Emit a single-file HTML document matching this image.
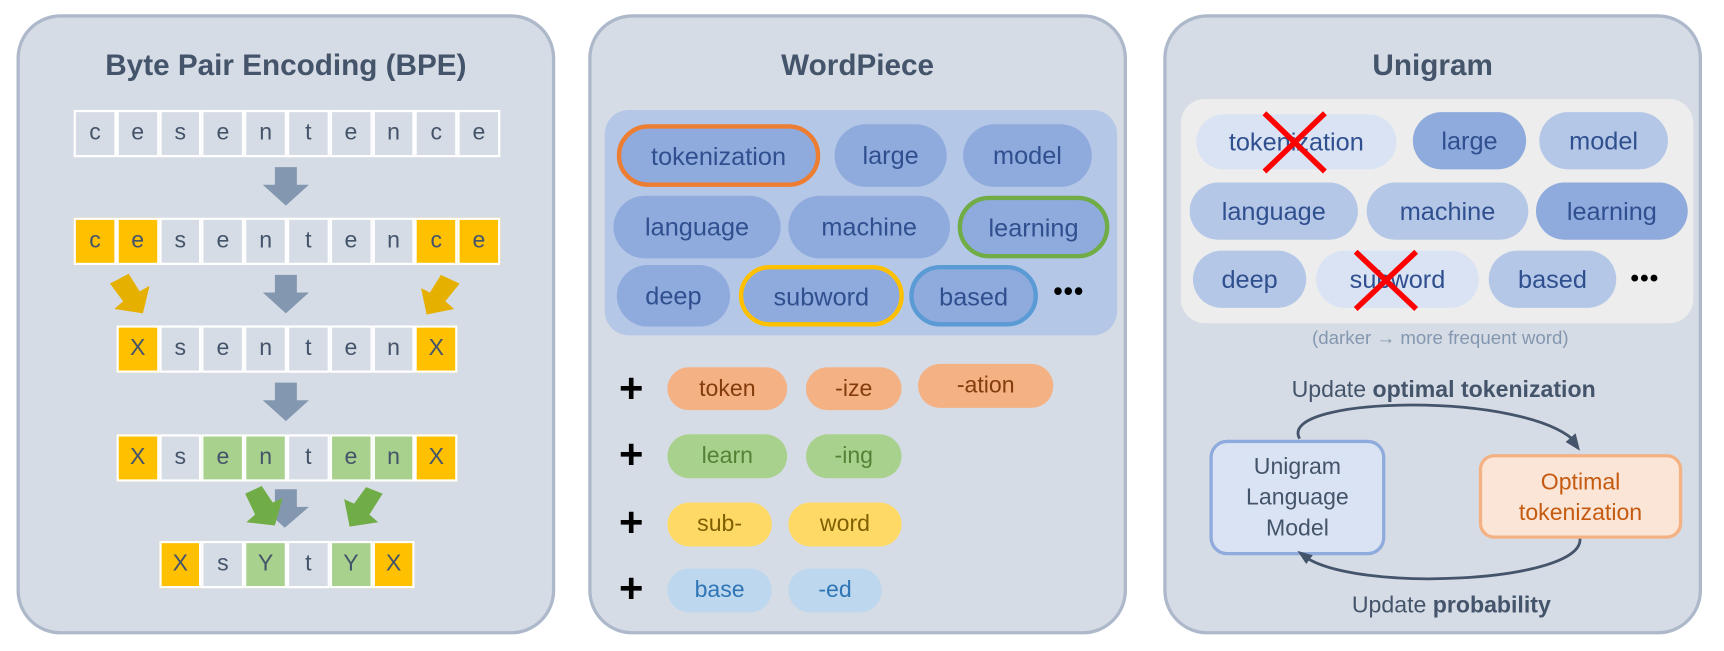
<!DOCTYPE html>
<html><head><meta charset="utf-8"><style>
html,body{margin:0;padding:0;background:#fff;}
body{width:1724px;height:651px;overflow:hidden;position:relative;font-family:"Liberation Sans",sans-serif;}
#w{position:absolute;left:0;top:0;width:1568px;height:592px;transform:scale(1.0995);transform-origin:0 0;}
.panel{position:absolute;top:13px;width:490px;height:564px;background:#d6dce5;border:3px solid #adb9ca;border-radius:40px;box-sizing:border-box;}
.title{position:absolute;top:28px;font-weight:bold;font-size:27px;color:#44546a;text-align:center;width:100%;}
.a{position:absolute;}
.cell{position:absolute;width:38.8px;height:43px;border:2px solid #fff;box-sizing:border-box;background:#d6dce5;color:#44546a;font-size:21px;text-align:center;line-height:38px;}
.o{background:#ffc000;}.g{background:#a9d18e;}
.pill{position:absolute;border-radius:30px;text-align:center;color:#2f4f8f;font-size:23px;box-sizing:border-box;}
.plus{position:absolute;left:563px;font-size:38px;font-weight:bold;color:#000;}
</style></head><body><div id="w">
<div class="panel" style="left:15px"><div class="title">Byte Pair Encoding (BPE)</div></div>
<div class="panel" style="left:535px"><div class="title">WordPiece</div></div>
<div class="panel" style="left:1058px"><div class="title">Unigram</div></div>

<div id="bpe"></div>

<!-- WordPiece -->
<div class="a" style="left:550px;top:100px;width:466px;height:205px;background:#b4c7e7;border-radius:22px"></div>
<div class="pill" style="left:561px;top:113px;width:185px;height:57px;line-height:51px;background:#8faadc;border:4px solid #ed7d31">tokenization</div>
<div class="pill" style="left:759px;top:113px;width:102px;height:57px;line-height:57px;background:#8faadc">large</div>
<div class="pill" style="left:876px;top:113px;width:117px;height:57px;line-height:57px;background:#8faadc">model</div>
<div class="pill" style="left:558px;top:178px;width:152px;height:57px;line-height:57px;background:#8faadc">language</div>
<div class="pill" style="left:717px;top:178px;width:147px;height:57px;line-height:57px;background:#8faadc">machine</div>
<div class="pill" style="left:871px;top:178px;width:138px;height:57px;line-height:51px;background:#8faadc;border:4px solid #70ad47">learning</div>
<div class="pill" style="left:561px;top:241px;width:103px;height:56px;line-height:56px;background:#8faadc">deep</div>
<div class="pill" style="left:672px;top:241px;width:150px;height:56px;line-height:50px;background:#8faadc;border:4px solid #ffc000">subword</div>
<div class="pill" style="left:827px;top:241px;width:117px;height:56px;line-height:50px;background:#8faadc;border:4px solid #5b9bd5">based</div>
<div class="a" style="left:958px;top:252px;font-size:24px;font-weight:bold;letter-spacing:1px">•••</div>

<div class="plus" style="top:333px">+</div>
<div class="plus" style="top:393px">+</div>
<div class="plus" style="top:455px">+</div>
<div class="plus" style="top:515px">+</div>
<div class="pill" style="left:607px;top:334px;width:109px;height:39px;line-height:39px;background:#f4b183;color:#843c0c;font-size:21px">token</div>
<div class="pill" style="left:733px;top:334px;width:87px;height:39px;line-height:39px;background:#f4b183;color:#843c0c;font-size:21px">-ize</div>
<div class="pill" style="left:835px;top:331px;width:123px;height:40px;line-height:40px;background:#f4b183;color:#843c0c;font-size:21px">-ation</div>
<div class="pill" style="left:607px;top:395px;width:109px;height:40px;line-height:40px;background:#a9d18e;color:#548235;font-size:21px">learn</div>
<div class="pill" style="left:733px;top:395px;width:87px;height:40px;line-height:40px;background:#a9d18e;color:#548235;font-size:21px">-ing</div>
<div class="pill" style="left:607px;top:457px;width:95px;height:40px;line-height:40px;background:#ffd966;color:#7f6000;font-size:21px">sub-</div>
<div class="pill" style="left:717px;top:457px;width:103px;height:40px;line-height:40px;background:#ffd966;color:#7f6000;font-size:21px">word</div>
<div class="pill" style="left:607px;top:517px;width:95px;height:40px;line-height:40px;background:#bdd7ee;color:#2e75b6;font-size:21px">base</div>
<div class="pill" style="left:717px;top:517px;width:85px;height:40px;line-height:40px;background:#bdd7ee;color:#2e75b6;font-size:21px">-ed</div>

<!-- Unigram -->
<div class="a" style="left:1074px;top:90px;width:466px;height:204px;background:#ededed;border-radius:22px"></div>
<div class="pill" style="left:1088px;top:104px;width:182px;height:50px;line-height:50px;background:#dae3f3">tokenization</div>
<div class="pill" style="left:1285px;top:102px;width:103px;height:52px;line-height:52px;background:#8faadc">large</div>
<div class="pill" style="left:1400px;top:102px;width:117px;height:52px;line-height:52px;background:#b4c7e7">model</div>
<div class="pill" style="left:1082px;top:166px;width:153px;height:52px;line-height:52px;background:#b4c7e7">language</div>
<div class="pill" style="left:1243px;top:166px;width:147px;height:52px;line-height:52px;background:#b4c7e7">machine</div>
<div class="pill" style="left:1397px;top:166px;width:138px;height:52px;line-height:52px;background:#8faadc">learning</div>
<div class="pill" style="left:1085px;top:228px;width:103px;height:52px;line-height:52px;background:#b4c7e7">deep</div>
<div class="pill" style="left:1197px;top:228px;width:148px;height:52px;line-height:52px;background:#dae3f3">subword</div>
<div class="pill" style="left:1354px;top:228px;width:116px;height:52px;line-height:52px;background:#b4c7e7">based</div>
<div class="a" style="left:1483px;top:240px;font-size:22px;font-weight:bold;letter-spacing:1px">•••</div>
<div class="a" style="left:1110px;top:298px;width:400px;text-align:center;font-size:17px;color:#8497b0">(darker → more frequent word)</div>
<div class="a" style="left:1100px;top:343px;width:426px;text-align:center;font-size:21px;color:#44546a">Update <b>optimal tokenization</b></div>
<div class="a" style="left:1100px;top:400px;width:160px;height:105px;box-sizing:border-box;background:#dae3f3;border:3px solid #8faadc;border-radius:16px;color:#44546a;font-size:21px;text-align:center;padding-top:8px;line-height:28px">Unigram<br>Language<br>Model</div>
<div class="a" style="left:1345px;top:413px;width:185px;height:77px;box-sizing:border-box;background:#fbe5d6;border:3px solid #f4b183;border-radius:14px;color:#c55a11;font-size:21px;text-align:center;padding-top:9px;line-height:28px">Optimal<br>tokenization</div>
<div class="a" style="left:1150px;top:539px;width:340px;text-align:center;font-size:21px;color:#44546a">Update <b>probability</b></div>

<svg class="a" style="left:0;top:0" width="1568" height="592">
<g fill="#8497b0">
<polygon points="250,152 270,152 270,168 281,168 260,187 239,168 250,168"/>
<polygon points="250,250 270,250 270,266 281,266 260,285 239,266 250,266"/>
<polygon points="250,348 270,348 270,364 281,364 260,383 239,364 250,364"/>
<polygon points="250,445 270,445 270,461 281,461 259,480 238,461 250,461"/>
</g>
<g fill="#e6b000">
<polygon points="100,258 117,249 127,265 136,260 130,285 104,281 112,274 "/>
<polygon points="418,258 401,250 391,266 383,262 388,286 413,281 405,274"/>
</g>
<g fill="#70ad47">
<polygon points="223,449 238,442 248,457 257,453 250,478 224,475 232,468"/>
<polygon points="348,449 333,443 322,458 313,454 318,479 344,475 336,468"/>
</g>
<path d="M1182,399 C1160,360 1390,355 1434,403" fill="none" stroke="#44546a" stroke-width="2.5"/>
<polygon points="1437,410 1424,402 1433,394" fill="#44546a"/>
<path d="M1437,490 C1440,530 1230,540 1185,505" fill="none" stroke="#44546a" stroke-width="2.5"/>
<polygon points="1180,501 1194,505 1188,513" fill="#44546a"/>
<g stroke="#f00" stroke-width="5"><line x1="1150" y1="103" x2="1205" y2="156"/><line x1="1205" y1="103" x2="1150" y2="156"/>
<line x1="1233" y1="229" x2="1288" y2="281"/><line x1="1288" y1="229" x2="1233" y2="281"/></g>
</svg>
</div>
<script>
var rows=[
[100,0,"c e s e n t e n c e","..........."],
[198,0,"c e s e n t e n c e","oo......oo"],
[296,1,"X s e n t e n X","o......o"],
[395,1,"X s e n t e n X","o.gg.ggo"],
[492,2,"X s Y t Y X","o.g.go"]];
var h="";
rows.forEach(function(r){var t=r[2].split(" ");t.forEach(function(c,i){var cl=r[3][i]=="o"?" o":r[3][i]=="g"?" g":"";
h+='<div class="cell'+cl+'" style="left:'+(67+(r[1]+i)*38.8)+'px;top:'+r[0]+'px">'+c+'</div>';});});
document.getElementById("bpe").innerHTML=h;
</script>
</body></html>
